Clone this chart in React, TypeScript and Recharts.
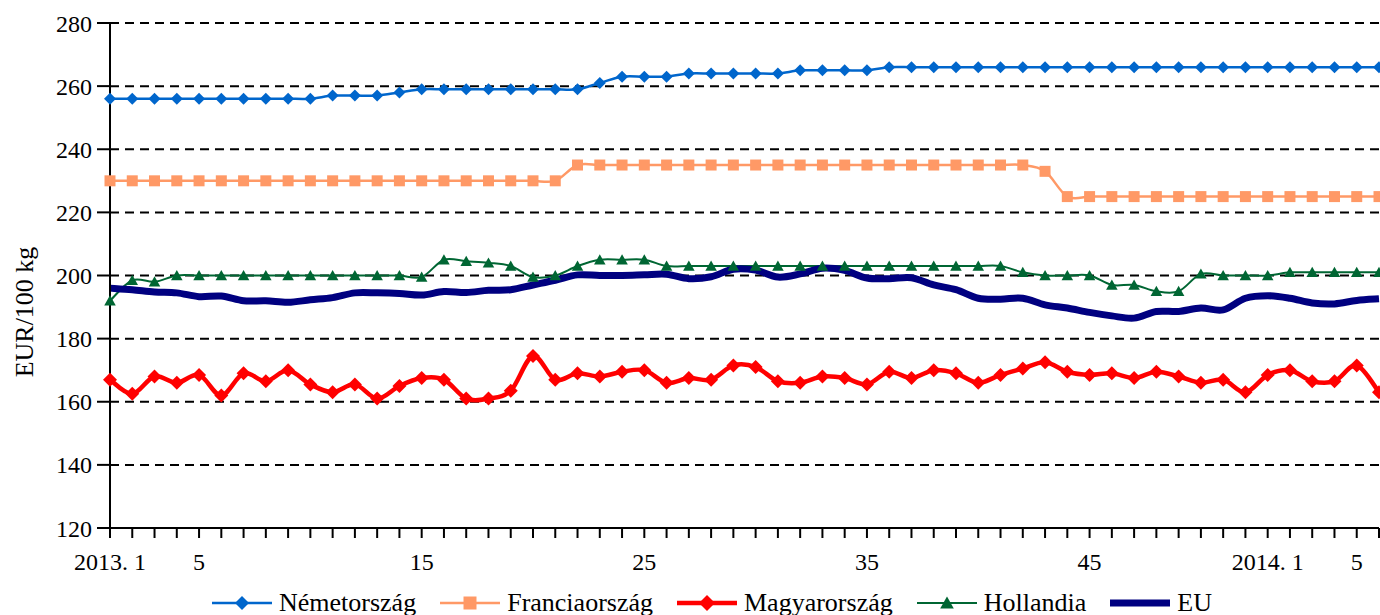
import React from 'react';
import { LineChart, Line, XAxis, YAxis, CartesianGrid } from 'recharts';

const weeks = [
  '2013-01','2013-02','2013-03','2013-04','2013-05','2013-06','2013-07','2013-08','2013-09','2013-10',
  '2013-11','2013-12','2013-13','2013-14','2013-15','2013-16','2013-17','2013-18','2013-19','2013-20',
  '2013-21','2013-22','2013-23','2013-24','2013-25','2013-26','2013-27','2013-28','2013-29','2013-30',
  '2013-31','2013-32','2013-33','2013-34','2013-35','2013-36','2013-37','2013-38','2013-39','2013-40',
  '2013-41','2013-42','2013-43','2013-44','2013-45','2013-46','2013-47','2013-48','2013-49','2013-50',
  '2013-51','2013-52','2014-01','2014-02','2014-03','2014-04','2014-05','2014-06',
];

const tickLabels: Record<string, string> = {
  '2013-01': '2013. 1',
  '2013-05': '5',
  '2013-15': '15',
  '2013-25': '25',
  '2013-35': '35',
  '2013-45': '45',
  '2014-01': '2014. 1',
  '2014-05': '5',
};

const nemetorszag = [
  256, 256, 256, 256, 256, 256, 256, 256, 256, 256,
  257, 257, 257, 258, 259, 259, 259, 259, 259, 259,
  259, 259, 261, 263, 263, 263, 264, 264, 264, 264,
  264, 265, 265, 265, 265, 266, 266, 266, 266, 266,
  266, 266, 266, 266, 266, 266, 266, 266, 266, 266,
  266, 266, 266, 266, 266, 266, 266, 266,
];

const franciaorszag = [
  230, 230, 230, 230, 230, 230, 230, 230, 230, 230,
  230, 230, 230, 230, 230, 230, 230, 230, 230, 230,
  230, 235, 235, 235, 235, 235, 235, 235, 235, 235,
  235, 235, 235, 235, 235, 235, 235, 235, 235, 235,
  235, 235, 233, 225, 225, 225, 225, 225, 225, 225,
  225, 225, 225, 225, 225, 225, 225, 225,
];

const magyarorszag = [
  167, 162.5, 168, 166, 168.5, 162, 169, 166.5, 170, 165.5,
  163, 165.5, 161, 165, 167.5, 167, 161, 161, 163.5, 174.5,
  167, 169, 168, 169.5, 170, 166, 167.5, 167, 171.5, 171,
  166.5, 166, 168, 167.5, 165.5, 169.5, 167.5, 170, 169, 166,
  168.5, 170.5, 172.5, 169.5, 168.5, 169, 167.5, 169.5, 168, 166,
  167, 163, 168.5, 170, 166.5, 166.5, 171.5, 163,
];

const hollandia = [
  192, 198.5, 198, 200, 200, 200, 200, 200, 200, 200,
  200, 200, 200, 200, 199.5, 205, 204.5, 204, 203, 199.5,
  200, 203, 205, 205, 205, 203, 203, 203, 203, 203,
  203, 203, 203, 203, 203, 203, 203, 203, 203, 203,
  203, 201, 200, 200, 200, 197, 197, 195, 195, 200.5,
  200, 200, 200, 201, 201, 201, 201, 201,
];

const eu = [
  196, 195.5, 194.8, 194.5, 193.3, 193.5, 192, 192, 191.5, 192.3,
  193, 194.5, 194.5, 194.3, 193.8, 194.9, 194.6, 195.3, 195.5, 197,
  198.5, 200.2, 200, 200, 200.2, 200.4, 199, 199.6, 202, 201.7,
  199.5, 200.5, 202.3, 201.6, 199.2, 199, 199.3, 197, 195.5, 192.8,
  192.5, 192.8, 190.7, 189.7, 188.3, 187.2, 186.5, 188.6, 188.6, 189.7,
  189.1, 192.8, 193.6, 192.8, 191.3, 191, 192.1, 192.6,
];

const yTicks = [120, 140, 160, 180, 200, 220, 240, 260, 280];

const data = weeks.map((w, i) => ({
  week: w,
  nemet: nemetorszag[i],
  francia: franciaorszag[i],
  magyar: magyarorszag[i],
  holland: hollandia[i],
  eu: eu[i],
}));

const FONT = 'Liberation Serif';

// Excel-like smoothed line (Catmull-Rom through the scaled points)
function smoothCurve(context: any) {
  let pts: number[][] = [];
  return {
    areaStart() {},
    areaEnd() {},
    lineStart() {
      pts = [];
    },
    point(x: number, y: number) {
      pts.push([+x, +y]);
    },
    lineEnd() {
      const n = pts.length;
      if (!n) return;
      context.moveTo(pts[0][0], pts[0][1]);
      for (let i = 0; i < n - 1; i++) {
        const p0 = pts[i > 0 ? i - 1 : i];
        const p1 = pts[i];
        const p2 = pts[i + 1];
        const p3 = pts[i + 2 < n ? i + 2 : i + 1];
        context.bezierCurveTo(
          p1[0] + (p2[0] - p0[0]) / 6,
          p1[1] + (p2[1] - p0[1]) / 6,
          p2[0] - (p3[0] - p1[0]) / 6,
          p2[1] - (p3[1] - p1[1]) / 6,
          p2[0],
          p2[1]
        );
      }
    },
  };
}

const diamondPath = (cx: number, cy: number, r: number) =>
  `M${cx},${cy - r}L${cx + r},${cy}L${cx},${cy + r}L${cx - r},${cy}Z`;
const squarePath = (cx: number, cy: number, r: number) =>
  `M${cx - r},${cy - r}H${cx + r}V${cy + r}H${cx - r}Z`;
const trianglePath = (cx: number, cy: number, r: number) =>
  `M${cx},${cy - r}L${cx + r * 1.05},${cy + r * 0.85}L${cx - r * 1.05},${cy + r * 0.85}Z`;

const makeDot = (kind: string, r: number, fill: string) => (props: any) => {
  const { cx, cy, index } = props;
  if (cx == null || cy == null) return <g key={`${kind}-${index}`} />;
  const d =
    kind === 'diamond' ? diamondPath(cx, cy, r) : kind === 'square' ? squarePath(cx, cy, r) : trianglePath(cx, cy, r);
  return <path key={`${kind}-${index}`} d={d} fill={fill} stroke="none" />;
};

const series = [
  { key: 'nemet', name: 'Németország', color: '#0066CC', width: 2.5, marker: 'diamond', r: 6 },
  { key: 'francia', name: 'Franciaország', color: '#FF9966', width: 2.5, marker: 'square', r: 5.5 },
  { key: 'magyar', name: 'Magyarország', color: '#FF0000', width: 4.5, marker: 'diamond', r: 7 },
  { key: 'holland', name: 'Hollandia', color: '#006633', width: 2, marker: 'triangle', r: 5.5 },
  { key: 'eu', name: 'EU', color: '#000080', width: 7, marker: 'none', r: 0 },
];

const LegendIcon = ({ s }: { s: (typeof series)[number] }) => (
  <svg width={60} height={24} style={{ display: 'block', flexShrink: 0 }}>
    <line x1={0} y1={12} x2={60} y2={12} stroke={s.color} strokeWidth={s.marker === 'none' ? 7 : s.width} />
    {s.marker === 'diamond' && <path d={diamondPath(30, 12, s.r + 1)} fill={s.color} />}
    {s.marker === 'square' && <path d={squarePath(30, 12, s.r + 1)} fill={s.color} />}
    {s.marker === 'triangle' && <path d={trianglePath(30, 12, s.r + 1)} fill={s.color} />}
  </svg>
);

export default function App() {
  return (
    <div style={{ position: 'absolute', left: 0, top: 0, width: 1380, height: 615, background: '#fff', fontFamily: FONT }}>
      <LineChart width={1380} height={615} data={data} margin={{ top: 23, right: 1, left: 0, bottom: 27 }}>
        <CartesianGrid vertical={false} stroke="#000" strokeWidth={2} strokeDasharray="9 6" />
        <XAxis
          dataKey="week"
          interval={0}
          height={60}
          tickSize={10}
          tickMargin={15}
          tickFormatter={(v: string) => tickLabels[v] ?? ''}
          axisLine={{ stroke: '#000', strokeWidth: 2 }}
          tickLine={{ stroke: '#000', strokeWidth: 2 }}
          tick={{ fill: '#000', fontSize: 24, fontFamily: FONT }}
        />
        <YAxis
          domain={[120, 280]}
          ticks={yTicks}
          width={110}
          tickSize={13}
          tickMargin={5}
          axisLine={{ stroke: '#000', strokeWidth: 2 }}
          tickLine={{ stroke: '#000', strokeWidth: 2 }}
          tick={{ fill: '#000', fontSize: 24, fontFamily: FONT }}
          label={{
            content: () => (
              <text
                x={24}
                y={312}
                transform="rotate(-90 24 312)"
                textAnchor="middle"
                dominantBaseline="central"
                fill="#000"
                fontSize={26}
                fontFamily={FONT}
              >
                EUR/100 kg
              </text>
            ),
          }}
        />
        {series.map((s) => (
          <Line
            key={s.key}
            dataKey={s.key}
            name={s.name}
            type={smoothCurve as any}
            stroke={s.color}
            strokeWidth={s.width}
            dot={s.marker === 'none' ? false : makeDot(s.marker, s.r, s.color)}
            activeDot={false}
            isAnimationActive={false}
          />
        ))}
      </LineChart>
      <div
        style={{
          position: 'absolute',
          left: 212,
          top: 589,
          width: 1160,
          height: 28,
          display: 'flex',
          alignItems: 'center',
          fontSize: 26,
          fontFamily: FONT,
          color: '#000',
          whiteSpace: 'nowrap',
        }}
      >
        {series.map((s) => (
          <div key={s.key} style={{ display: 'flex', alignItems: 'center', marginRight: 24, flexShrink: 0 }}>
            <LegendIcon s={s} />
            <span style={{ marginLeft: 7, lineHeight: '28px' }}>{s.name}</span>
          </div>
        ))}
      </div>
    </div>
  );
}
